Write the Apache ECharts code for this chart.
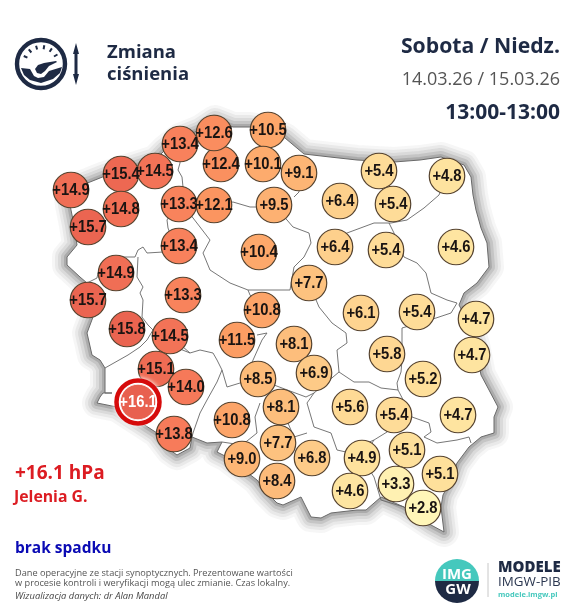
<!DOCTYPE html>
<html><head><meta charset="utf-8">
<style>html,body{margin:0;padding:0;background:#fff}#c{width:588px;height:606px}</style>
<script src="https://cdn.jsdelivr.net/npm/echarts@6/dist/echarts.min.js"></script>
</head><body><div id="c"></div>
<script>
// Station locations in map units and 24 h pressure change (hPa)
const stationX = [180,268,221,214,263,299,379,447,121,71,155,121,88,179,214,274,340,393,179,259,335,386,456,309,116,88,183,262,361,417,476,127,170,237,294,472,387,314,423,156,186,258,281,350,394,458,232,174,278,407,312,362,242,440,277,350,396,423,138];
const stationY = [144,130,164,133,164,173,171,176,174,190,171,209,227,204,205,205,201,204,246,252,247,250,247,283,273,300,295,310,313,312,319,329,336,340,344,355,354,373,379,369,387,379,407,407,415,415,420,434,443,450,458,458,459,474,481,491,484,508,402];
const pressureChange = [13.4,10.5,12.4,12.6,10.1,9.1,5.4,4.8,15.4,14.9,14.5,14.8,15.7,13.3,12.1,9.5,6.4,5.4,13.4,10.4,6.4,5.4,4.6,7.7,14.9,15.7,13.3,10.8,6.1,5.4,4.7,15.8,14.5,11.5,8.1,4.7,5.8,6.9,5.2,15.1,14.0,8.5,8.1,5.6,5.4,4.7,10.8,13.8,7.7,5.1,6.8,4.9,9.0,5.1,8.4,4.6,3.3,2.8,16.1];

const maxStationName = 'Jelenia G.';
const unit = 'hPa';
const noFallText = 'brak spadku';
const titleLines = ['Zmiana','ciśnienia'];
const dayText = 'Sobota / Niedz.';
const dateText = '14.03.26 / 15.03.26';
const hourText = '13:00-13:00';
const noteLines = ['Dane operacyjne ze stacji synoptycznych. Prezentowane wartości','w procesie kontroli i weryfikacji mogą ulec zmianie. Czas lokalny.'];
const creditText = 'Wizualizacja danych: dr Alan Mandal';

// Country outline and regional borders in map units
const polandOutline = [[68,190],[90,182],[105,176],[130,168],[155,160],[165,150],[180,138],[200,130],[215,120],[233,127],[250,127],[270,130],[285,138],[304,154],[330,157],[357,160],[394,162],[420,160],[441,157],[464,165],[471,177],[473,195],[476,210],[481,228],[487,243],[489,267],[477,283],[464,293],[459,305],[468,322],[475,345],[481,375],[489,390],[498,407],[494,417],[494,433],[481,437],[469,447],[457,463],[451,480],[443,495],[441,507],[444,532],[431,525],[404,507],[381,497],[366,510],[357,510],[331,513],[321,518],[311,517],[301,497],[283,505],[277,503],[267,493],[257,480],[227,457],[217,452],[222,442],[207,443],[192,437],[190,448],[177,455],[170,450],[157,433],[140,422],[117,407],[97,403],[100,397],[103,393],[112,393],[105,393],[105,368],[100,360],[92,355],[87,333],[93,317],[88,300],[87,283],[80,277],[67,265],[67,257],[77,245],[74,225],[70,205]];
const regionBorders = [
 [[180,150],[180,163],[178,170],[182,177],[183,187],[176,205],[167,220],[168,228],[175,246],[163,252],[147,253],[143,247],[138,250],[135,257],[123,257],[98,273],[97,278],[87,283]],
 [[138,257],[137,277],[143,287],[140,293],[143,300],[142,317],[148,325],[153,330],[147,340],[140,347],[128,355],[105,368]],
 [[175,340],[190,353],[200,350],[213,353],[217,360],[222,370],[227,387],[240,383],[245,378],[262,340],[267,333],[257,335]],
 [[222,370],[217,382],[207,400],[200,413],[193,433],[192,437]],
 [[160,345],[170,345],[190,353]],
 [[183,205],[200,227],[210,240],[203,253],[210,270],[230,283],[248,290],[250,295],[262,310]],
 [[214,205],[233,202],[250,207],[257,207],[274,205],[287,220],[293,227],[309,233],[311,243],[304,257],[294,267],[290,290],[248,290]],
 [[299,173],[299,192],[294,197]],
 [[317,247],[347,233],[374,223],[391,223],[407,220],[424,208],[439,195],[447,176]],
 [[389,223],[394,233],[404,257],[417,263],[426,273],[431,293],[447,300],[457,303],[451,313],[436,318],[402,328],[402,337],[402,360],[401,372],[397,383],[398,390],[412,417],[429,423],[431,432],[424,437],[437,443],[457,440],[469,437],[471,443]],
 [[398,390],[381,388],[369,382],[354,382],[339,372],[337,350],[347,343],[346,333],[332,323],[319,307],[309,283]],
 [[339,372],[314,393],[307,403],[314,427],[331,433],[337,450],[346,452],[374,440],[387,432],[394,415]],
 [[307,433],[294,437],[281,407]],
 [[374,440],[362,458],[374,477],[381,500],[404,507]],
 [[314,393],[306,397],[258,379]],
 [[260,403],[255,417],[257,433],[242,445],[222,442]]
];

const navy = '#1e2a44';
const maxIndex = pressureChange.indexOf(Math.max(...pressureChange));
const fmt = v => '+' + v.toFixed(1);
const bubbleData = stationX.map((x,i)=>[x,stationY[i],pressureChange[i]]);
const maxPoint = bubbleData[maxIndex];
const otherPoints = bubbleData.filter((_,i)=>i!==maxIndex);

const T = (x,y,text,size,weight,color,align,extra) => ({type:'text',x,y,silent:true,style:Object.assign({text,font:`${weight} ${size}px "Open Sans",sans-serif`,fill:color,textAlign:align||'left',textVerticalAlign:'middle'},extra||{})});

// decorative gauge icon
const ticks = [-155,-130,-105,-80,-55,-30].map(a=>{
  const r=a*Math.PI/180,cx=41,cy=64;
  return {type:'line',silent:true,shape:{x1:cx+Math.cos(r)*15,y1:cy+Math.sin(r)*15,x2:cx+Math.cos(r)*19,y2:cy+Math.sin(r)*19},style:{stroke:navy,lineWidth:2}};
});
const icon = [
 {type:'circle',silent:true,shape:{cx:41,cy:64,r:24},style:{fill:'#fff',stroke:navy,lineWidth:4.4}},
 {type:'polygon',silent:true,shape:{points:[[21,68],[30,69],[34,76],[38,78],[44,77],[49,71],[62,67],[60,73],[53,79],[41,83],[30,80],[24,75]]},style:{fill:navy}},
 {type:'polygon',silent:true,shape:{points:[[35,69],[38,65],[44,63],[56,61],[57,62],[49,66],[45,71],[41,74],[37,73]]},style:{fill:navy}},
 {type:'polygon',silent:true,shape:{points:[[76,43],[79,54],[77.5,54],[77.5,74],[79,74],[76,85],[73,74],[74.5,74],[74.5,54],[73,54]]},style:{fill:navy}}
].concat(ticks);

// decorative IMGW logo
const logo = [
 {type:'sector',silent:true,shape:{cx:457,cy:581,r:22,startAngle:Math.PI,endAngle:2*Math.PI},style:{fill:'#45c8bd'}},
 {type:'sector',silent:true,shape:{cx:457,cy:581,r:22,startAngle:0,endAngle:Math.PI},style:{fill:navy}},
 T(457,575,'IMG',15,'bold','#fff','center'),
 T(458,590,'GW',15,'bold','#fff','center'),
 {type:'line',silent:true,shape:{x1:488,y1:563,x2:488,y2:597},style:{stroke:'#c8c8c8',lineWidth:1}},
 T(498,568,'MODELE',15,'800',navy),
 T(498,582,'IMGW-PIB',13.4,'400','#2b3750'),
 T(498,595,'modele.imgw.pl',7.5,'700','#45c8bd')
];

const texts = [
 T(107,53,titleLines[0],18.5,'700',navy),
 T(107,75,titleLines[1],18.5,'700',navy),
 T(560,47,dayText,21.2,'700',navy,'right'),
 T(560,80,dateText,18,'400','#555','right'),
 T(560,113,hourText,21,'700',navy,'right'),
 T(15,474,fmt(maxPoint[2])+' '+unit,19,'700','#dc1c22'),
 T(14,497,maxStationName,15.8,'700','#dc1c22'),
 T(15,549,noFallText,15.5,'700','#0a0ab4'),
 T(15,573,noteLines[0],9.2,'400','#555'),
 T(15,583.5,noteLines[1],9.2,'400','#555'),
 T(15,596,creditText,9.4,'italic 400','#444')
];

function renderMap(params, api){
  const pts = l => l.map(p=>api.coord(p));
  const outline = pts(polandOutline);
  const glow = [[30,.05],[24,.07],[18,.09],[12,.14],[6,.2]].map(g=>({type:'polygon',shape:{points:outline},style:{fill:'none',stroke:`rgba(70,70,70,${g[1]})`,lineWidth:g[0],lineJoin:'round'}}));
  const kids = glow.concat([{type:'polygon',shape:{points:outline},style:{fill:'#fff',stroke:'#6a6a6a',lineWidth:1}}]);
  regionBorders.forEach(b=>kids.push({type:'polyline',shape:{points:pts(b)},style:{fill:null,stroke:'#666',lineWidth:0.9}}));
  return {type:'group',children:kids};
}

function renderLabel(params, api){
  const v = api.value(2), c = api.coord([api.value(0),api.value(1)]);
  return {type:'text',x:c[0],y:c[1],scaleX:0.87,scaleY:1,style:{text:fmt(v),font:'bold 17px "Liberation Sans",Arial,sans-serif',fill:params.dataIndex===maxIndex?'#fff':'#1a1412',textAlign:'center',textVerticalAlign:'middle'}};
}

const chart = echarts.init(document.getElementById('c'),null,{renderer:'canvas'});
chart.setOption({
 animation:false,
 backgroundColor:'#fff',
 grid:{left:0,right:0,top:0,bottom:0},
 xAxis:{type:'value',min:0,max:588,show:false},
 yAxis:{type:'value',min:0,max:606,inverse:true,show:false},
 visualMap:{show:false,type:'continuous',dimension:2,seriesIndex:[1,3],min:2.8,max:16.1,
   inRange:{color:['#fff6b8','#fee19c','#fdc683','#fdb272','#fc9b62','#f77a5a','#e8604f']}},
 graphic:{elements:[...icon,...logo,...texts]},
 series:[
  {type:'custom',coordinateSystem:'cartesian2d',renderItem:renderMap,data:[[0,0]],silent:true,z:1,clip:false},
  {type:'scatter',data:otherPoints,symbol:'circle',symbolSize:35.5,z:3,silent:true,
   itemStyle:{opacity:1,borderColor:'#56432f',borderWidth:1.2}},
  {type:'scatter',data:[maxPoint],symbol:'circle',symbolSize:43,z:4,silent:true,
   itemStyle:{color:'#fff',opacity:1,borderColor:'#d60b0b',borderWidth:4.5,shadowBlur:5,shadowColor:'#fff'}},
  {type:'scatter',data:[maxPoint],symbol:'circle',symbolSize:35.5,z:5,silent:true,
   itemStyle:{opacity:1,borderColor:'#fff',borderWidth:0.8}},
  {type:'custom',coordinateSystem:'cartesian2d',renderItem:renderLabel,data:bubbleData,silent:true,z:6,clip:false,encode:{x:0,y:1}}
 ]
});
</script></body></html>
